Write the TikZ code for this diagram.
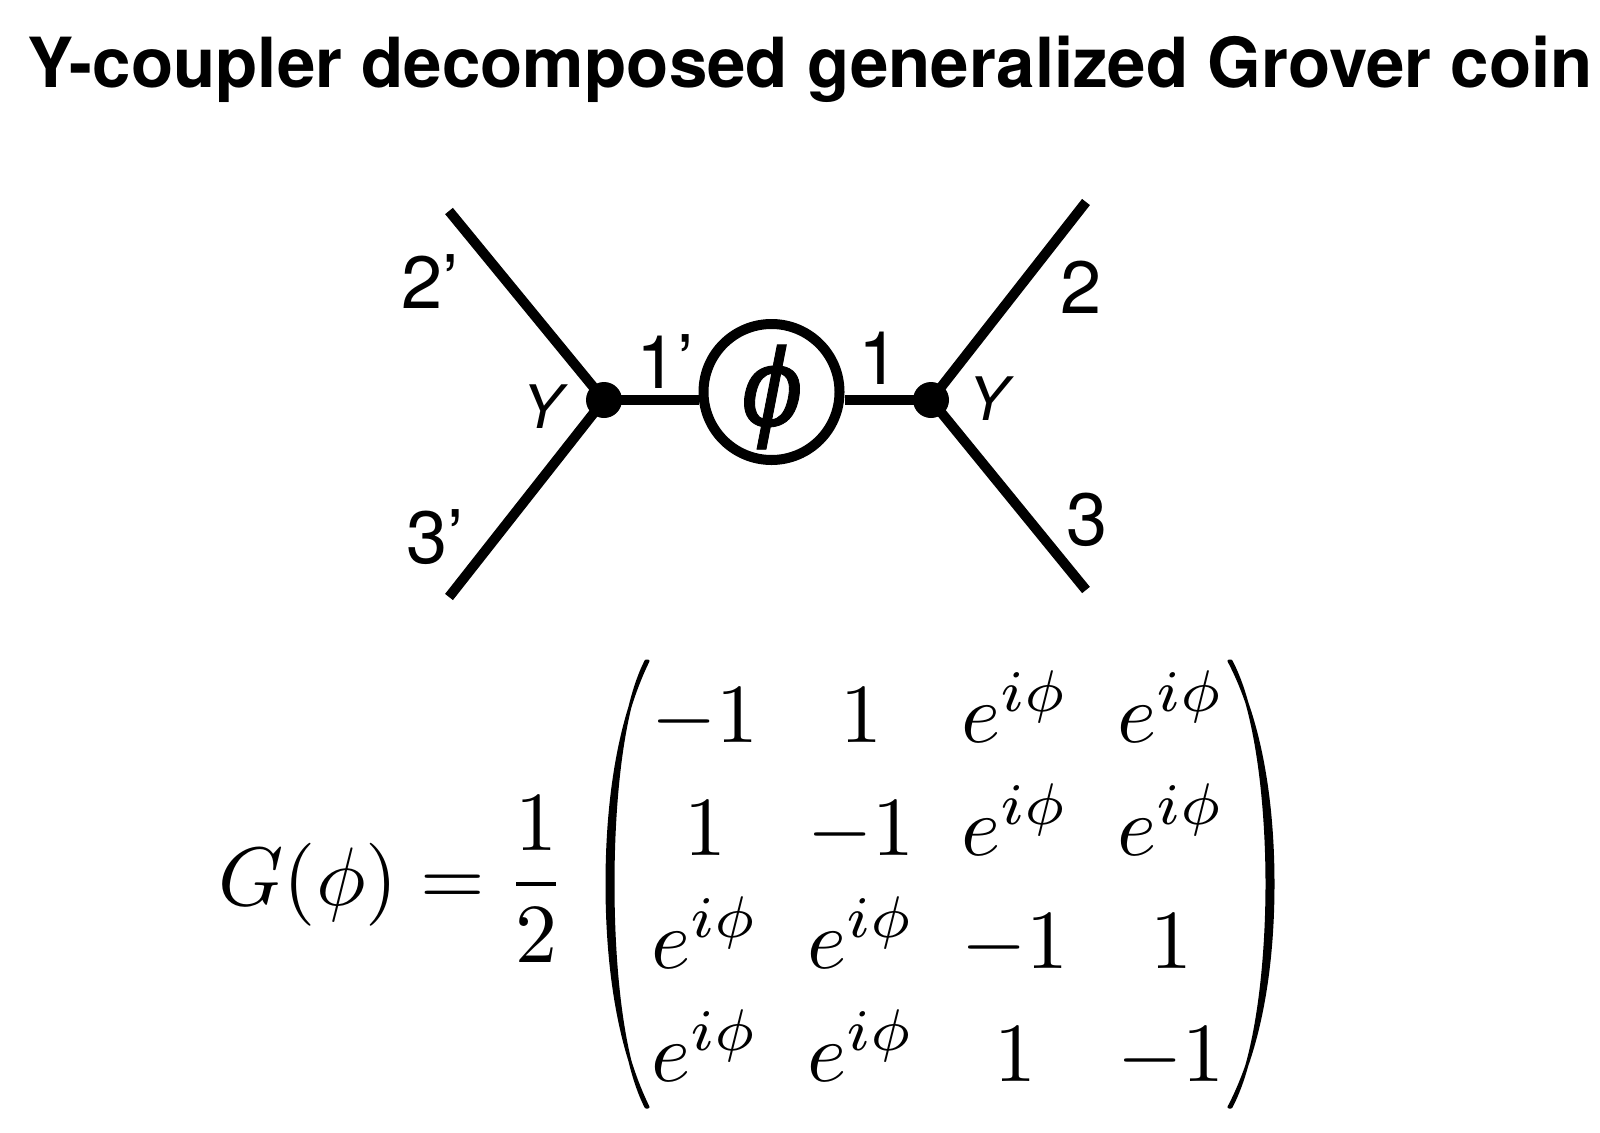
\documentclass[tikz,border=0pt]{standalone}
\usepackage{fontspec}
\setmainfont{TeX Gyre Heros}
\newfontfamily\phifont[FakeBold=0.8]{Liberation Sans Italic}
\tikzset{
  wire/.style={line width=10pt,black},
  lab/.style={anchor=base west,inner sep=0pt,font=\fontsize{74}{85}\selectfont},
  ylab/.style={anchor=base west,inner sep=0pt,font=\itshape\fontsize{60}{70}\selectfont},
  ent/.style={anchor=base,inner sep=0pt,scale=8.4},
  mth/.style={anchor=base west,inner sep=0pt,scale=8.3},
  dotnode/.style={circle,fill=black,draw=none,minimum size=36pt,inner sep=0pt},
  coin/.style={circle,draw=black,fill=white,line width=10pt,minimum size=136pt,inner sep=0pt}
}
\begin{document}
\begin{tikzpicture}[x=1pt,y=-1pt]
\useasboundingbox (0,0) rectangle (1600,1132);
\fill[white] (0,0) rectangle (1600,1132);
\node[anchor=base west,inner sep=0pt,font=\bfseries\fontsize{69.1}{80}\selectfont] (title) at (27,88) {Y-coupler decomposed generalized Grover coin};
% graph
\coordinate (tl) at (449,211);
\coordinate (bl) at (449,597);
\coordinate (tr) at (1086,202);
\coordinate (br) at (1086,590);
\node[dotnode] (jl) at (604,400) {};
\node[dotnode] (jr) at (931,400) {};
\node[coin] (c) at (771.5,392) {};
\draw[wire] (tl) -- (jl.center);
\draw[wire] (bl) -- (jl.center);
\draw[wire] (tr) -- (jr.center);
\draw[wire] (br) -- (jr.center);
\draw[wire] (jl.center) -- (jl.center -| c.west);
\draw[wire] (jr.center) -- (jr.center -| c.east);
\node[anchor=base,inner sep=0pt,font=\phifont\fontsize{112}{130}\selectfont] (phi) at (772,426) {ϕ};
\node[lab] (l2p) at (401,308) {2’};
\node[lab] (l3p) at (406,563) {3’};
\node[lab] (l1p) at (636,388) {1’};
\node[lab] (l1) at (858,384) {1};
\node[lab] (l2) at (1060,313) {2};
\node[lab] (l3) at (1066,545) {3};
\node[ylab] (yl) at (522,428) {Y};
\node[ylab] (yr) at (968,420) {Y};
% equation
\node[mth] (lhs) at (217,905) {$G(\phi)=$};
\node[ent] (n) at (536,850) {$1$};
\node[ent] (d) at (536,962) {$2$};
\draw[line width=4pt] (516,884) -- (556,884);
% matrix
\node[ent] (m11) at (705,742) {$-1$};
\node[ent] (m12) at (861,742) {$1$};
\node[ent] (m13) at (1015,742) {$e^{i\phi}$};
\node[ent] (m14) at (1171,742) {$e^{i\phi}$};
\node[ent] (m21) at (705,855) {$1$};
\node[ent] (m22) at (861,855) {$-1$};
\node[ent] (m23) at (1015,855) {$e^{i\phi}$};
\node[ent] (m24) at (1171,855) {$e^{i\phi}$};
\node[ent] (m31) at (705,968) {$e^{i\phi}$};
\node[ent] (m32) at (861,968) {$e^{i\phi}$};
\node[ent] (m33) at (1015,968) {$-1$};
\node[ent] (m34) at (1171,968) {$1$};
\node[ent] (m41) at (705,1081) {$e^{i\phi}$};
\node[ent] (m42) at (861,1081) {$e^{i\phi}$};
\node[ent] (m43) at (1015,1081) {$1$};
\node[ent] (m44) at (1171,1081) {$-1$};
% parentheses
\fill[draw=black,line width=3pt,line join=round] (648,661) .. controls (619,720) and (607,800) .. (607,884)
  .. controls (607,968) and (619,1048) .. (648,1107)
  -- (646,1107) .. controls (622,1060) and (613,968) .. (613,884)
  .. controls (613,800) and (622,708) .. (646,661) -- cycle;
\fill[draw=black,line width=3pt,line join=round] (1229,661) .. controls (1260,720) and (1273,800) .. (1273,884)
  .. controls (1273,968) and (1260,1048) .. (1229,1107)
  -- (1231,1107) .. controls (1256,1060) and (1267,968) .. (1267,884)
  .. controls (1267,800) and (1256,708) .. (1231,661) -- cycle;
\end{tikzpicture}
\end{document}
